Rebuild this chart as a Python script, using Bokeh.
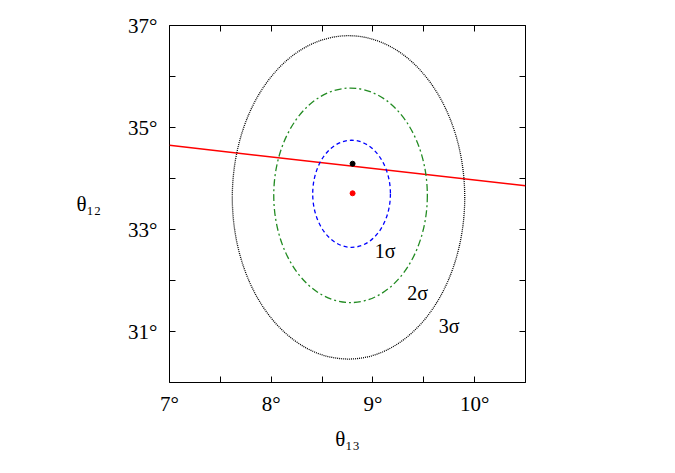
from bokeh.plotting import figure
from bokeh.models import Range1d, FixedTicker, CustomJSTickFormatter, LinearAxis, Label
from bokeh.embed import file_html
from bokeh.resources import INLINE

# contours (center, full width/height in degrees)
cont_names = ["1σ", "2σ", "3σ"]
cont_x = [8.79, 8.78, 8.76]
cont_y = [33.70, 33.67, 33.63]
cont_w = [0.764, 1.51, 2.285]
cont_h = [2.10, 4.21, 6.34]
cont_colors = ["#0000ff", "#228b22", "#000000"]
cont_dash = ["4 3", "7 3 2 3", "1 1"]
label_x = [9.12, 9.44, 9.75]
label_y = [32.57, 31.75, 31.10]

# straight line
line_x = [7.0, 10.5]
line_y = [34.65, 33.86]

# points
red_pt = (8.80, 33.71)
black_pt = (8.80, 34.29)

x_ticks = [7, 7.5, 8, 8.5, 9, 9.5, 10, 10.5]
y_ticks = [30, 31, 32, 33, 34, 35, 36, 37]

FONT = "Liberation Serif"

p = figure(width=660, height=458, output_backend="svg", toolbar_location=None,
           x_range=Range1d(7, 10.5), y_range=Range1d(30, 37),
           min_border_left=169, min_border_right=135, min_border_top=25, min_border_bottom=76)
p.xaxis.visible = False
p.yaxis.visible = False
p.grid.visible = False
p.outline_line_color = "black"
p.outline_line_width = 1

xfmt = CustomJSTickFormatter(code="return (Math.abs(tick - Math.round(tick)) < 1e-6) ? (Math.round(tick) + '°') : '';")
yfmt = CustomJSTickFormatter(code="var t = Math.round(tick); return (t % 2 == 1) ? (t + '°') : '';")
blank = CustomJSTickFormatter(code="return '';")

def style(ax, fmt, ticks, label_size="21px"):
    ax.ticker = FixedTicker(ticks=ticks)
    ax.formatter = fmt
    ax.major_tick_in = 6
    ax.major_tick_out = 0
    ax.minor_tick_line_color = None
    ax.axis_line_color = None
    ax.major_tick_line_color = "black"
    ax.major_label_text_font = FONT
    ax.major_label_text_font_size = label_size
    ax.major_label_text_color = "black"
    ax.axis_label_text_color = "black"
    ax.axis_label_text_font = FONT
    ax.axis_label_text_font_size = "21px"
    ax.axis_label_text_font_style = "normal"

bx = LinearAxis(); style(bx, xfmt, x_ticks); bx.major_label_standoff = 9
bx.axis_label = "θ₁₃"; bx.axis_label_standoff = 8
p.add_layout(bx, "below")
tx = LinearAxis(); style(tx, blank, x_ticks); p.add_layout(tx, "above")
ly = LinearAxis(); style(ly, yfmt, y_ticks); ly.major_label_standoff = 12
ly.axis_label = "θ₁₂"; ly.axis_label_standoff = 24
ly.axis_label_orientation = "horizontal"
p.add_layout(ly, "left")
ry = LinearAxis(); style(ry, blank, y_ticks); p.add_layout(ry, "right")

p.line(line_x, line_y, line_color="red", line_width=1.5)

for i in range(3):
    p.ellipse(x=[cont_x[i]], y=[cont_y[i]], width=[cont_w[i]], height=[cont_h[i]],
              fill_color=None, line_color=cont_colors[i], line_dash=cont_dash[i], line_width=1.3)
    p.add_layout(Label(x=label_x[i], y=label_y[i], text=cont_names[i], text_font=FONT,
                       text_font_size="20px", text_align="center", text_baseline="middle",
                       text_color="black"))

p.scatter([red_pt[0]], [red_pt[1]], size=5, color="red")
p.scatter([black_pt[0]], [black_pt[1]], size=5, color="black")

open("out.html", "w").write(file_html(p, INLINE))
